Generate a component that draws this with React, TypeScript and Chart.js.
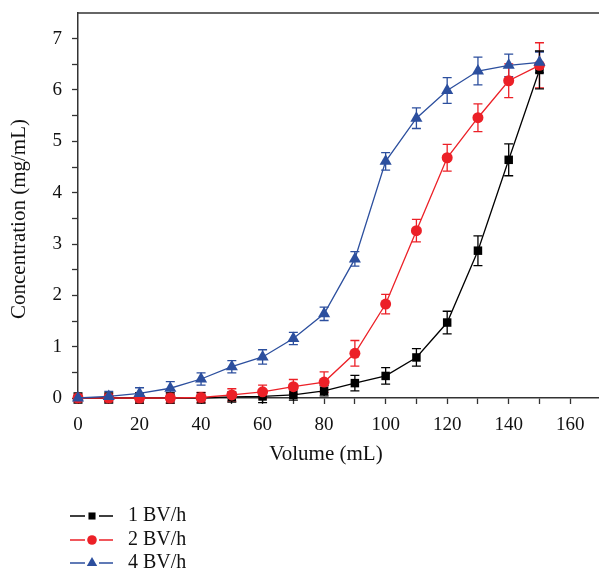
import React, { useEffect, useRef } from "react";
import { Chart, registerables } from "chart.js";

Chart.register(...registerables);

const volumes = [0, 10, 20, 30, 40, 50, 60, 70, 80, 90, 100, 110, 120, 130, 140, 150];
const bv1 = [0, 0, 0, 0, 0, 0.02, 0.03, 0.06, 0.14, 0.29, 0.43, 0.79, 1.47, 2.87, 4.64, 6.39];
const bv1Err = [0.1, 0.1, 0.1, 0.1, 0.1, 0.1, 0.12, 0.1, 0.1, 0.15, 0.16, 0.17, 0.22, 0.29, 0.31, 0.37];
const bv2 = [0, 0, 0, 0, 0.01, 0.06, 0.12, 0.22, 0.31, 0.87, 1.83, 3.26, 4.68, 5.46, 6.18, 6.48];
const bv2Err = [0.08, 0.08, 0.1, 0.1, 0.1, 0.12, 0.13, 0.14, 0.2, 0.25, 0.19, 0.22, 0.26, 0.27, 0.33, 0.44];
const bv4 = [0, 0.03, 0.09, 0.19, 0.37, 0.61, 0.8, 1.16, 1.64, 2.71, 4.61, 5.45, 5.99, 6.37, 6.48, 6.54];
const bv4Err = [0.05, 0.1, 0.11, 0.13, 0.12, 0.12, 0.14, 0.12, 0.13, 0.14, 0.17, 0.2, 0.25, 0.27, 0.22, 0.2];

const seriesLabels = ["1 BV/h", "2 BV/h", "4 BV/h"];
const xTitle = "Volume (mL)";
const yTitle = "Concentration (mg/mL)";

const FONT = "'Liberation Serif', 'Times New Roman', serif";
const BLACK = "#000000";
const RED = "#ec2027";
const BLUE = "#2c4f9e";

const seriesDefs = [
  { label: seriesLabels[0], values: bv1, errors: bv1Err, color: BLACK, style: "rect", radius: 6, order: 3 },
  { label: seriesLabels[1], values: bv2, errors: bv2Err, color: RED, style: "circle", radius: 5.5, order: 2 },
  { label: seriesLabels[2], values: bv4, errors: bv4Err, color: BLUE, style: "triangle", radius: 7, order: 1 },
];

const errorBarPlugin = {
  id: "errorBars",
  beforeDatasetsDraw(chart: any) {
    const ctx = chart.ctx;
    const xs = chart.scales.x;
    const ys = chart.scales.y;
    const dsList = chart.data.datasets;
    for (let i = dsList.length - 1; i >= 0; i--) {
      const ds = dsList[i];
      const errs = ds.errors as number[];
      ctx.save();
      ctx.strokeStyle = ds.borderColor;
      ctx.lineWidth = 1.3;
      ds.data.forEach((p: any, j: number) => {
        const e = errs[j];
        const px = xs.getPixelForValue(p.x);
        const top = ys.getPixelForValue(p.y + e);
        const bot = ys.getPixelForValue(p.y - e);
        ctx.beginPath();
        ctx.moveTo(px, top);
        ctx.lineTo(px, bot);
        ctx.moveTo(px - 4.5, top);
        ctx.lineTo(px + 4.5, top);
        ctx.moveTo(px - 4.5, bot);
        ctx.lineTo(px + 4.5, bot);
        ctx.stroke();
      });
      ctx.restore();
    }
  },
};

function drawMarker(ctx: CanvasRenderingContext2D, style: string, x: number, y: number, r: number) {
  ctx.beginPath();
  if (style === "rect") {
    const s = Math.SQRT1_2 * r;
    ctx.rect(x - s, y - s, 2 * s, 2 * s);
  } else if (style === "circle") {
    ctx.arc(x, y, r, 0, Math.PI * 2);
  } else {
    ctx.moveTo(x, y - r);
    ctx.lineTo(x + r * 0.866, y + r * 0.5);
    ctx.lineTo(x - r * 0.866, y + r * 0.5);
    ctx.closePath();
  }
  ctx.fill();
}

const decorPlugin = {
  id: "decor",
  afterDraw(chart: any) {
    const ctx = chart.ctx;
    const area = chart.chartArea;
    ctx.save();
    // top border
    ctx.strokeStyle = "#333333";
    ctx.lineWidth = 1.5;
    ctx.beginPath();
    ctx.moveTo(area.left - 0.75, area.top);
    ctx.lineTo(area.right, area.top);
    ctx.stroke();

    // axis titles
    ctx.fillStyle = "#111111";
    ctx.font = `21px ${FONT}`;
    ctx.textAlign = "center";
    ctx.textBaseline = "middle";
    ctx.fillText(xTitle, 326, 454);
    ctx.save();
    ctx.translate(19, 219);
    ctx.rotate(-Math.PI / 2);
    ctx.fillText(yTitle, 0, 0);
    ctx.restore();

    // legend
    ctx.font = `20px ${FONT}`;
    const rows = [516, 540, 563];
    seriesDefs.forEach((s, i) => {
      const y = rows[i];
      ctx.strokeStyle = s.color;
      ctx.fillStyle = s.color;
      ctx.lineWidth = 1.3;
      ctx.beginPath();
      ctx.moveTo(70, y);
      ctx.lineTo(85, y);
      ctx.moveTo(99, y);
      ctx.lineTo(113, y);
      ctx.stroke();
      drawMarker(ctx, s.style, 92, y, s.style === "rect" ? 5 : s.style === "circle" ? 4.8 : 6);
      ctx.fillStyle = "#111111";
      ctx.textAlign = "left";
      ctx.fillText(s.label, 128, y);
    });
    ctx.restore();
  },
};

export default function App() {
  const ref = useRef<HTMLCanvasElement | null>(null);
  useEffect(() => {
    if (!ref.current) return;
    const chart = new Chart(ref.current, {
      type: "line",
      data: {
        datasets: seriesDefs.map((s) => ({
          label: s.label,
          data: volumes.map((v, i) => ({ x: v, y: s.values[i] })),
          errors: s.errors,
          borderColor: s.color,
          backgroundColor: s.color,
          pointBackgroundColor: s.color,
          pointBorderColor: s.color,
          pointBorderWidth: 0,
          pointStyle: s.style,
          pointRadius: s.radius,
          borderWidth: 1.3,
          tension: 0,
          clip: false,
          order: s.order,
        })) as any,
      },
      options: {
        animation: false,
        responsive: false,
        events: [],
        layout: { padding: { top: 13, left: 0, right: 19, bottom: 105 } },
        plugins: { legend: { display: false }, tooltip: { enabled: false } },
        scales: {
          x: {
            type: "linear",
            min: 0,
            max: 170,
            afterFit: (s: any) => {
              s.height = 70;
              s.paddingLeft = 0;
              s.paddingRight = 0;
            },
            afterBuildTicks: (s: any) => {
              s.ticks = volumes.concat([160, 170]).map((v) => ({ value: v }));
            },
            ticks: {
              autoSkip: false,
              maxRotation: 0,
              padding: 10,
              color: "#111111",
              font: { family: FONT, size: 19 },
              callback: (v: any) => (Number(v) % 20 === 0 ? String(v) : ""),
            },
            grid: { drawOnChartArea: false, drawTicks: true, tickLength: 6, color: "#333333", tickWidth: 1.3 },
            border: { display: true, color: "#333333", width: 1.5 },
          },
          y: {
            type: "linear",
            min: 0,
            max: 7.5,
            afterFit: (s: any) => {
              s.width = 78;
              s.paddingTop = 0;
              s.paddingBottom = 0;
            },
            afterBuildTicks: (s: any) => {
              const t: any[] = [];
              for (let k = 0; k <= 14; k++) t.push({ value: k / 2 });
              s.ticks = t;
            },
            ticks: {
              autoSkip: false,
              padding: 10,
              color: "#111111",
              font: { family: FONT, size: 19 },
              callback: (v: any) => (Number.isInteger(Number(v)) ? String(v) : ""),
            },
            grid: { drawOnChartArea: false, drawTicks: true, tickLength: 6, color: "#333333", tickWidth: 1.3 },
            border: { display: true, color: "#333333", width: 1.5 },
          },
        },
      },
      plugins: [errorBarPlugin, decorPlugin],
    } as any);
    return () => chart.destroy();
  }, []);
  return (
    <div style={{ position: "fixed", left: 0, top: 0, width: 599, height: 573, overflow: "hidden", background: "#fff" }}>
      <canvas ref={ref} width={620} height={573} style={{ display: "block" }} />
    </div>
  );
}
